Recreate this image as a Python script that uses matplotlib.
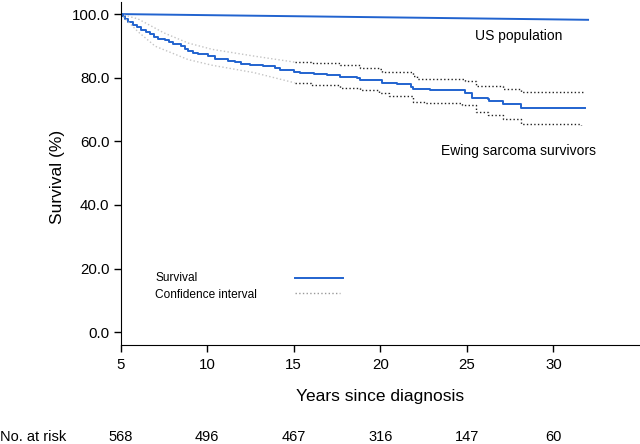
import matplotlib
matplotlib.use("Agg")
import matplotlib.pyplot as plt

plt.rcParams["font.family"] = ["Liberation Sans", "DejaVu Sans"]

# US population expected survival
us_years = [5, 32]
us_surv = [100.0, 98.2]

# Kaplan-Meier survival of Ewing sarcoma survivors (step points)
km_years = [5.0, 5.1, 5.25, 5.45, 5.7, 5.95, 6.2, 6.45, 6.7, 6.95, 7.16, 7.55,
            7.8, 8.03, 8.5, 8.7, 8.9, 9.2, 9.5, 10.06, 10.45, 11.2, 11.6, 11.98,
            12.45, 13.2, 13.9, 14.2, 14.99, 15.38, 16.15, 16.93, 17.7, 18.66,
            18.85, 20.1, 20.97, 21.8, 21.9, 22.9, 24.0, 24.9, 25.3, 26.2, 26.3,
            27.1, 28.1, 31.8]
km_surv = [100.0, 99.3, 98.3, 97.6, 96.7, 95.9, 95.1, 94.3, 93.6, 92.9, 92.2, 91.7,
           91.1, 90.6, 89.9, 89.0, 88.3, 87.9, 87.5, 86.8, 86.0, 85.4, 84.9, 84.2,
           84.0, 83.7, 83.0, 82.5, 81.9, 81.4, 81.1, 80.8, 80.2, 79.8,
           79.3, 78.3, 77.9, 77.2, 76.4, 76.1, 76.0, 75.3, 73.6, 73.4, 72.7,
           71.8, 70.6, 70.6]

# confidence limits
ci_years_up = [5.0, 6.0, 7.5, 8.9, 10.3, 12.7, 15.05, 16.0, 17.65, 18.8, 19.9,
               20.1, 21.9, 22.1, 24.0, 24.9, 25.5, 27.1, 28.1, 31.7]
ci_upper = [100.0, 98.5, 94.1, 90.9, 88.9, 86.8, 84.9, 84.5, 83.9, 83.1, 82.6,
            81.8, 80.5, 79.5, 79.5, 79.0, 77.4, 76.4, 75.5, 75.5]
ci_years_lo = [5.0, 6.0, 7.0, 8.9, 10.3, 12.7, 15.05, 16.0, 17.65, 18.8, 19.9,
               20.5, 21.9, 22.6, 24.7, 25.5, 26.2, 27.1, 28.1, 31.6]
ci_lower = [100.0, 94.5, 89.9, 85.7, 83.9, 81.6, 78.4, 77.6, 76.9, 76.1, 75.3,
            74.3, 72.4, 71.9, 71.4, 69.1, 68.2, 67.0, 65.3, 65.1]

risk_years = [5, 10, 15, 20, 25, 30]
at_risk = [568, 496, 467, 316, 147, 60]

blue = "#2163cf"

fig = plt.figure(figsize=(6.4, 4.44), dpi=100)
ax = fig.add_axes([0.1884, 0.2239, 0.8116, 0.7716])

ax.plot(us_years, us_surv, color=blue, lw=1.4)
ax.step(km_years, km_surv, where="post", color=blue, lw=1.4)

# CI: faint and smooth before year 15, dark steps after
for xs, ys in [(ci_years_up, ci_upper), (ci_years_lo, ci_lower)]:
    early = [i for i, x in enumerate(xs) if x <= 15.05]
    late = [i for i, x in enumerate(xs) if x >= 15.05]
    ax.plot([xs[i] for i in early], [ys[i] for i in early],
            color="#c4c4c4", lw=1.0, ls=":")
    ax.step([xs[i] for i in late], [ys[i] for i in late], where="post",
            color="#222222", lw=1.0, ls=":")

ax.text(28, 93.0, "US population", ha="center", va="center", fontsize=10)
ax.text(28, 57.0, "Ewing sarcoma survivors", ha="center", va="center", fontsize=10)

# legend
ax.text(7.0, 17.1, "Survival", ha="left", va="center", fontsize=8.6)
ax.plot([15.1, 17.85], [17.0, 17.0], color=blue, lw=1.4)
ax.text(7.0, 11.7, "Confidence interval", ha="left", va="center", fontsize=8.6)
ax.plot([15.1, 17.7], [12.3, 12.3], color="#999999", lw=1.0, ls=":")

ax.set_xlim(5, 35)
ax.set_ylim(-3.9, 103.8)
ax.set_xticks([5, 10, 15, 20, 25, 30])
ax.set_yticks([0, 20, 40, 60, 80, 100])
ax.set_yticklabels([f"{v:.1f}" for v in [0, 20, 40, 60, 80, 100]])
ax.tick_params(axis="both", labelsize=10.8, length=5, width=1, direction="out")
ax.tick_params(axis="x", pad=5)
ax.tick_params(axis="y", pad=3)
ax.spines["top"].set_visible(False)
ax.spines["right"].set_visible(False)

ax.set_xlabel("Years since diagnosis", fontsize=12.5, labelpad=12)
ax.set_ylabel("Survival (%)", fontsize=12.5)
ax.yaxis.set_label_coords(-0.107, 0.49)

# numbers at risk
risk_y = 1 - 437 / 444
fig.text(0.0, risk_y, "No. at risk", ha="left", va="center", fontsize=10.5)
for yr, n in zip(risk_years, at_risk):
    ax.annotate(str(n), xy=(yr, risk_y), xycoords=("data", "figure fraction"),
                ha="center", va="center", fontsize=10.5)

fig.savefig("out.png", dpi=100)
